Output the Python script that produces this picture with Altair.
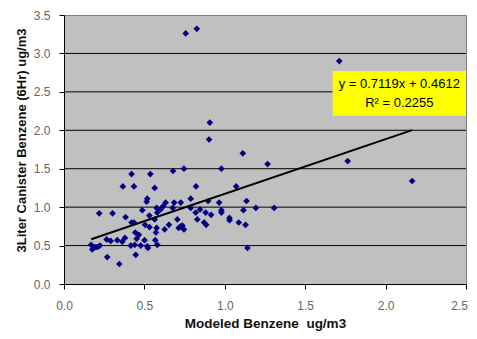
import altair as alt
import pandas as pd

xs = [0.757, 0.826, 1.712, 1.764, 2.165, 0.907, 0.902, 1.112, 1.266, 0.979,
      0.746, 0.678, 0.420, 0.537, 0.366, 0.435, 0.564, 0.821, 1.071, 0.219,
      0.302, 1.307, 1.193, 1.135, 1.116, 1.087, 1.129, 1.141, 1.029, 1.029,
      0.979, 0.979, 0.965, 0.896, 0.788, 0.819, 0.846, 0.881, 0.915, 0.829,
      0.871, 0.884, 0.788, 0.726, 0.685, 0.676, 0.632, 0.616, 0.601, 0.576,
      0.518, 0.514, 0.487, 0.531, 0.580, 0.564, 0.504, 0.532, 0.576, 0.572,
      0.626, 0.653, 0.705, 0.726, 0.713, 0.746, 0.736, 0.383, 0.420, 0.435,
      0.379, 0.443, 0.466, 0.452, 0.415, 0.440, 0.477, 0.501, 0.518, 0.522,
      0.568, 0.580, 0.446, 0.344, 0.269, 0.169, 0.176, 0.192, 0.223, 0.265,
      0.290, 0.331, 0.362, 0.207]
ys = [3.26, 3.32, 2.90, 1.60, 1.34, 2.10, 1.88, 1.70, 1.56, 1.50,
      1.50, 1.47, 1.43, 1.43, 1.27, 1.27, 1.25, 1.27, 1.27, 0.92,
      0.92, 0.99, 0.99, 1.08, 0.96, 0.80, 0.77, 0.47, 0.86, 0.83,
      0.96, 0.93, 1.06, 1.08, 1.11, 0.93, 0.97, 0.93, 0.90, 0.84,
      0.80, 0.77, 0.99, 1.06, 1.06, 0.99, 1.06, 1.01, 0.97, 0.99,
      1.11, 1.07, 0.96, 0.89, 0.93, 0.84, 0.77, 0.74, 0.73, 0.67,
      0.71, 0.77, 0.84, 0.75, 0.73, 0.71, 0.76, 0.87, 0.80, 0.80,
      0.60, 0.67, 0.64, 0.59, 0.50, 0.51, 0.50, 0.57, 0.49, 0.47,
      0.57, 0.51, 0.38, 0.26, 0.35, 0.51, 0.45, 0.48, 0.50, 0.58,
      0.56, 0.57, 0.55, 0.48]

slope = 0.7119
intercept = 0.4612
trend_x = [min(xs), max(xs)]
grid_values = [0.5, 1.0, 1.5, 2.0, 2.5, 3.0]
x_ticks = [0.0, 0.5, 1.0, 1.5, 2.0, 2.5]
y_ticks = [0.0, 0.5, 1.0, 1.5, 2.0, 2.5, 3.0, 3.5]
eq_lines = ["y = 0.7119x + 0.4612", "R² = 0.2255"]
x_title = "Modeled Benzene\u00a0\u00a0ug/m3"
y_title = "3Liter Canister Benzene (6Hr) ug/m3"

pts = pd.DataFrame({"x": xs, "y": ys})
trend = pd.DataFrame({"x": trend_x, "y": [slope * v + intercept for v in trend_x]})
grid = pd.DataFrame({"y": grid_values})
box = pd.DataFrame({"x": [1.671], "x2": [2.5], "y": [2.19], "y2": [2.77]})
labels = pd.DataFrame({"x": [2.085, 2.085], "y": [2.60, 2.36], "t": eq_lines})

font = "Liberation Sans"
xscale = alt.Scale(domain=[0, 2.5], nice=False, zero=False)
yscale = alt.Scale(domain=[0, 3.5], nice=False, zero=False)

xaxis = alt.Axis(values=x_ticks, format=".1f", grid=False, domainColor="black",
                 tickColor="black", tickSize=5, labelPadding=11, labelColor="#666666",
                 labelFont=font, labelFontSize=12, title=x_title,
                 titleFont=font, titleFontSize=13.5, titleFontWeight="bold",
                 titleColor="#111111", titlePadding=5, labelFlush=False,
                 labelOverlap=False,
                 labelOffset={"expr": "datum.value >= 2.5 ? -7 : 0"})
yaxis = alt.Axis(values=y_ticks, format=".1f", grid=False, domainColor="black",
                 tickColor="black", tickSize=5, labelPadding=9, labelColor="#666666",
                 labelFont=font, labelFontSize=12, title=y_title,
                 titleFont=font, titleFontSize=13, titleFontWeight="bold",
                 titleColor="#111111", titleAngle=-90, titleX=-43, titleY=125,
                 titleBaseline="middle", titleAlign="center", labelFlush=False,
                 labelOverlap=False)

X = lambda: alt.X("x:Q", scale=xscale, axis=xaxis)
Y = lambda: alt.Y("y:Q", scale=yscale, axis=yaxis)

gridlines = alt.Chart(grid).mark_rule(color="black", strokeWidth=1).encode(y=Y())
points = alt.Chart(pts).mark_point(shape="diamond", filled=True, color="#000080",
                                   size=45, opacity=1).encode(x=X(), y=Y())
line = alt.Chart(trend).mark_line(color="black", strokeWidth=2).encode(x=X(), y=Y())
rect = alt.Chart(box).mark_rect(color="#FFFF00").encode(
    x=X(), x2="x2:Q", y=Y(), y2="y2:Q",
)
text = alt.Chart(labels).mark_text(font=font, fontSize=13, color="black",
                                   align="center", baseline="middle").encode(
    x=X(), y=Y(), text="t:N"
)

chart = alt.layer(gridlines, points, line, rect, text).properties(
    width=402, height=269,
    background="white",
    padding={"left": 56, "top": 7, "right": 3, "bottom": 47},
    autosize=alt.AutoSizeParams(type="none"),
).configure_view(fill="#C0C0C0", stroke="#808080", strokeWidth=1)

chart.save("out.html", embed_options={"renderer": "svg", "actions": False})
